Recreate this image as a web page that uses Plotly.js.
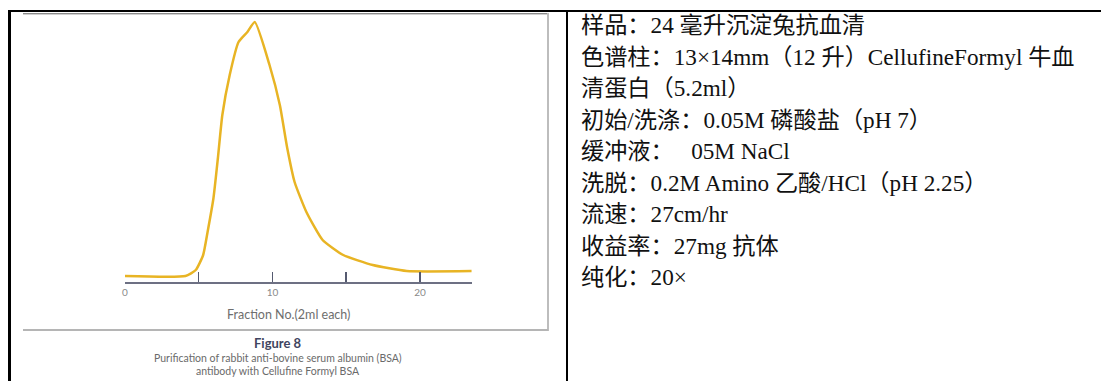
<!DOCTYPE html>
<html>
<head>
<meta charset="utf-8">
<script src="https://cdn.plot.ly/plotly-3.0.1.min.js"></script>
<style>
  html, body { margin:0; padding:0; background:#fff; }
  #wrap { position:relative; width:1101px; height:381px; overflow:hidden; background:#fff; }
  #chart { position:absolute; left:0; top:0; width:1101px; height:381px; }
  .bk { position:absolute; background:#000; }
  .gr { position:absolute; }
  #info { position:absolute; left:581px; top:10px; font-family:"Liberation Serif","Noto Sans CJK SC",serif;
          font-size:23.2px; line-height:31.5px; color:#111; white-space:pre; }
</style>
</head>
<body>
<div id="wrap">
  <div id="chart"></div>
  <div class="gr" style="left:23px; top:13px; width:525px; height:1px; background:#8a8a8a;"></div>
  <div class="gr" style="left:23px; top:14px; width:525px; height:1px; background:#d0d0d0;"></div>
  <div class="gr" style="left:547px; top:13px; width:2px; height:318px; background:#bdbdbd;"></div>
  <div class="gr" style="left:23px; top:329px; width:525px; height:2px; background:#b5b5b5;"></div>
  <div id="info"></div>
  <div class="bk" style="left:8px; top:10px; width:1093px; height:2px;"></div>
  <div class="bk" style="left:8px; top:10px; width:3px; height:371px;"></div>
  <div class="bk" style="left:566px; top:10px; width:2px; height:371px;"></div>
</div>
<script>
// ---- data ----
const fraction = [0, 4.1, 4.8, 5.3, 5.6, 6.0, 6.3, 6.6, 7.1, 7.7, 8.3, 8.8, 9.8, 10.5, 11.0, 11.5, 12.3, 13.4, 14.8, 16.8, 19.1, 23.5];
const signal   = [0.06, 0.06, 0.12, 0.27, 0.50, 0.84, 1.24, 1.67, 2.07, 2.40, 2.50, 2.60, 2.17, 1.77, 1.34, 1.00, 0.70, 0.42, 0.27, 0.17, 0.11, 0.11];
const tickValues = [0, 5, 10, 15, 20];
const tickLabels = ['0', '', '10', '', '20'];
const xTitle = 'Fraction No.(2ml each)';
const figTitle = 'Figure 8';
const caption1 = 'Purification of rabbit anti-bovine serum albumin (BSA)';
const caption2 = 'antibody with Cellufine Formyl BSA';
const infoLines = [
  '样品：24 毫升沉淀兔抗血清',
  '色谱柱：13×14mm（12 升）CellufineFormyl 牛血',
  '清蛋白（5.2ml）',
  '初始/洗涤：0.05M 磷酸盐（pH 7）',
  '缓冲液：   05M NaCl',
  '洗脱：0.2M Amino 乙酸/HCl（pH 2.25）',
  '流速：27cm/hr',
  '收益率：27mg 抗体',
  '纯化：20×'
];

document.getElementById('info').textContent = infoLines.join('\n');

// plot-area geometry (pixels)
const L = 125, R = 472, T = 12, B = 282, W = 1101, H = 381;
const px = x => (x - L) / (R - L);
const py = y => (B - y) / (B - T);

const font = 'Lato, "Open Sans", sans-serif';

const trace = {
  x: fraction, y: signal, type: 'scatter', mode: 'lines',
  line: { color: '#E8B424', width: 2.5, shape: 'spline', smoothing: 0.5 },
  hoverinfo: 'skip'
};

const layout = {
  width: W, height: H,
  margin: { l: L, r: W - R, t: T, b: H - B, pad: 0 },
  paper_bgcolor: 'rgba(0,0,0,0)', plot_bgcolor: 'rgba(0,0,0,0)',
  showlegend: false,
  xaxis: {
    range: [0, 23.53], showgrid: false, zeroline: false,
    showline: true, linecolor: '#6d7083', linewidth: 2,
    ticks: 'inside', ticklen: 10, tickwidth: 1.5, tickcolor: '#555a70',
    tickvals: tickValues, ticktext: tickLabels,
    tickfont: { family: font, size: 10, color: '#8a8a8a' },
    fixedrange: true
  },
  yaxis: { range: [0, 2.70], visible: false, fixedrange: true },
  annotations: [
    { text: xTitle, xref: 'paper', yref: 'paper', x: px(288), y: py(314), showarrow: false,
      xanchor: 'center', yanchor: 'middle', font: { family: font, size: 12.5, color: '#6e6e6e' } },
    { text: '<b>' + figTitle + '</b>', xref: 'paper', yref: 'paper', x: px(278), y: py(343), showarrow: false,
      xanchor: 'center', yanchor: 'middle', font: { family: font, size: 13, color: '#3f4560' } },
    { text: caption1, xref: 'paper', yref: 'paper', x: px(278), y: py(357.5), showarrow: false,
      xanchor: 'center', yanchor: 'middle', font: { family: font, size: 10.5, color: '#6a6a6a' } },
    { text: caption2, xref: 'paper', yref: 'paper', x: px(278), y: py(371), showarrow: false,
      xanchor: 'center', yanchor: 'middle', font: { family: font, size: 10.5, color: '#6a6a6a' } }
  ]
};

Plotly.newPlot('chart', [trace], layout, { staticPlot: true, displayModeBar: false });
</script>
</body>
</html>
